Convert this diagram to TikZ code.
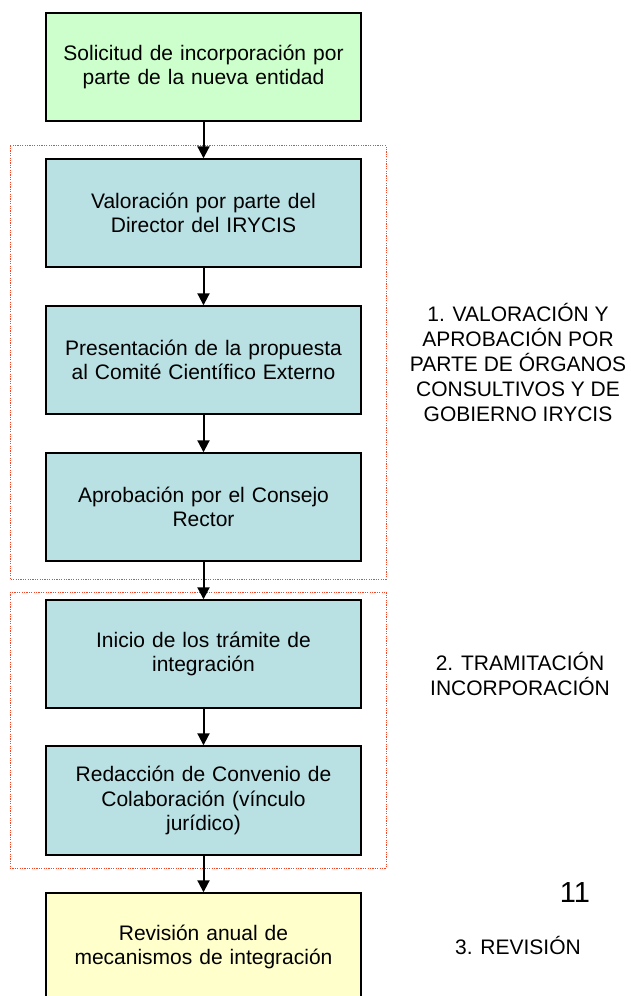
\documentclass[tikz,border=0pt]{standalone}
\usepackage{fontspec}
\setmainfont{Liberation Sans}
\usetikzlibrary{arrows.meta}
\definecolor{gbox}{RGB}{204,255,204}
\definecolor{bbox}{RGB}{185,224,227}
\definecolor{ybox}{RGB}{255,255,204}
\definecolor{reddot}{RGB}{245,70,40}
\tikzset{
  flowbox/.style={draw=black, line width=1.4pt, minimum width=315pt, minimum height=108pt,
    align=center, inner sep=4pt, text width=300pt, font=\fontsize{21}{24.5}\selectfont},
  greenbox/.style={flowbox, fill=gbox},
  bluebox/.style={flowbox, fill=bbox},
  yellowbox/.style={flowbox, fill=ybox},
  flowarrow/.style={draw=black, line width=2pt, -{Triangle[length=12pt,width=12pt]}},
  groupframe/.style={draw=reddot, line width=1pt, dash pattern=on 1.2pt off 1.2pt},
  sidelabel/.style={align=center, font=\fontsize{21}{25}\selectfont},
}
\begin{document}
\begin{tikzpicture}[x=1pt,y=-1pt]
\useasboundingbox (0,0) rectangle (630,996);
\clip (0,0) rectangle (630,996);
% group frames
\draw[groupframe] (10,145.5) rectangle (386,579);
\draw[groupframe] (10,592) rectangle (386,868);
% boxes
\node[greenbox]  (b1) at (203.5,67)    {Solicitud de incorporación por\\parte de la nueva entidad};
\node[bluebox]   (b2) at (203.5,213)   {Valoración por parte del\\Director del IRYCIS};
\node[bluebox]   (b3) at (203.5,360)   {Presentación de la propuesta\\al Comité Científico Externo};
\node[bluebox]   (b4) at (203.5,507)   {Aprobación por el Consejo\\Rector};
\node[bluebox]   (b5) at (203.5,654)   {Inicio de los trámite de\\integración};
\node[bluebox, minimum height=109pt] (b6) at (203.5,800.5) {Redacción de Convenio de\\Colaboración (vínculo\\jurídico)};
\node[yellowbox] (b7) at (203.5,947)   {Revisión anual de\\mecanismos de integración};
% arrows
\draw[flowarrow] (b1.south) -- (b2.north);
\draw[flowarrow] (b2.south) -- (b3.north);
\draw[flowarrow] (b3.south) -- (b4.north);
\draw[flowarrow] (b4.south) -- (b5.north);
\draw[flowarrow] (b5.south) -- (b6.north);
\draw[flowarrow] (b6.south) -- (b7.north);
% side labels
\node[sidelabel] (l1) at (518,362) {1. VALORACIÓN Y\\APROBACIÓN POR\\PARTE DE ÓRGANOS\\CONSULTIVOS Y DE\\GOBIERNO IRYCIS};
\node[sidelabel] (l2) at (520,674) {2. TRAMITACIÓN\\INCORPORACIÓN};
\node[sidelabel] (l3) at (518,945) {3. REVISIÓN};
\node[font=\fontsize{29}{30}\selectfont] (pg) at (575,893) {11};
\end{tikzpicture}
\end{document}
